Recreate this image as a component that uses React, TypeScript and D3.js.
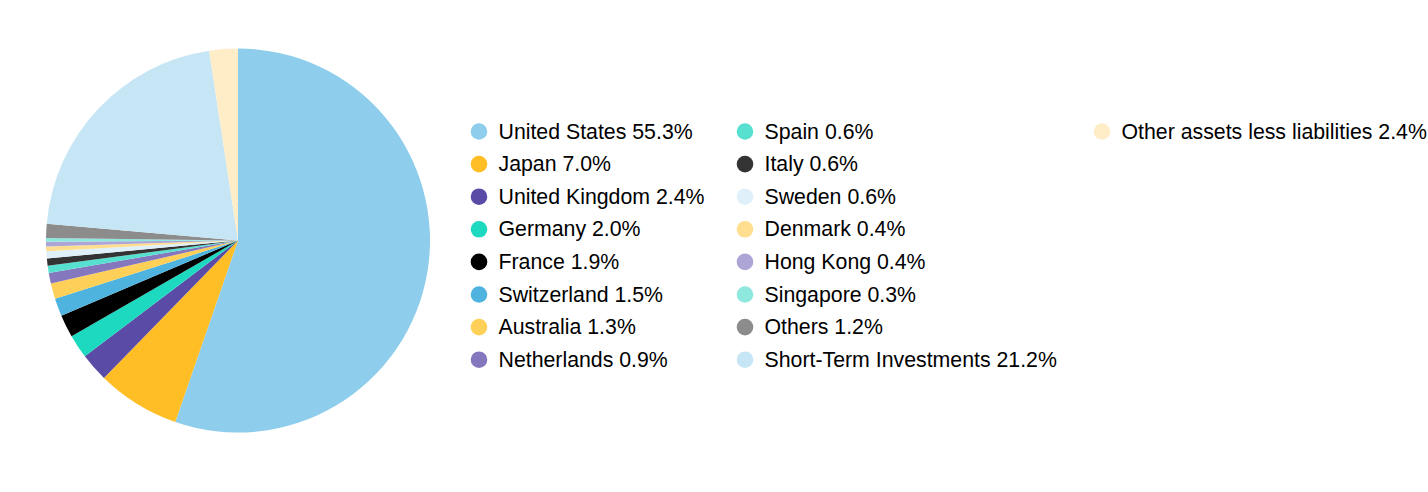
import React from "react";
import * as d3 from "d3";

const categories = [
  "United States", "Japan", "United Kingdom", "Germany", "France", "Switzerland",
  "Australia", "Netherlands", "Spain", "Italy", "Sweden", "Denmark", "Hong Kong",
  "Singapore", "Others", "Short-Term Investments", "Other assets less liabilities",
];
const values = [55.3, 7.0, 2.4, 2.0, 1.9, 1.5, 1.3, 0.9, 0.6, 0.6, 0.6, 0.4, 0.4, 0.3, 1.2, 21.2, 2.4];
const colors = [
  "#8ecdeb", "#ffbe26", "#5a4ba6", "#1dd9c0", "#000000", "#4fb3df",
  "#ffd058", "#8577be", "#57e0cf", "#333333", "#e0f0fa", "#ffde8f", "#ada5d6",
  "#8ee8dd", "#8c8c8c", "#c6e5f5", "#ffedc8",
];

const W = 1428, H = 492;
const cx = 238, cy = 240.5, R = 192;
const colX = [479, 745, 1102];
const rowY0 = 131.5, rowStep = 32.6, perCol = 8;

export default function App() {
  const pie = d3.pie<number>().sort(null).value((d) => d)(values);
  const arc = d3.arc<d3.PieArcDatum<number>>().innerRadius(0).outerRadius(R);
  return (
    <svg width={W} height={H} style={{ position: "absolute", left: 0, top: 0, background: "#fff" }}>
      <g transform={`translate(${cx},${cy})`}>
        {pie.map((p, i) => (
          <path key={i} d={arc(p) || ""} fill={colors[i]} />
        ))}
      </g>
      {categories.map((c, i) => {
        const col = Math.floor(i / perCol);
        const row = i % perCol;
        const x = colX[col];
        const y = rowY0 + row * rowStep;
        return (
          <g key={c}>
            <circle cx={x} cy={y} r={8.3} fill={colors[i]} />
            <text x={x + 19.5} y={y} dominantBaseline="central" fontFamily="Liberation Sans, Arial, sans-serif" fontSize={21.3} fill="#000">
              {`${c} ${values[i].toFixed(1)}%`}
            </text>
          </g>
        );
      })}
    </svg>
  );
}
